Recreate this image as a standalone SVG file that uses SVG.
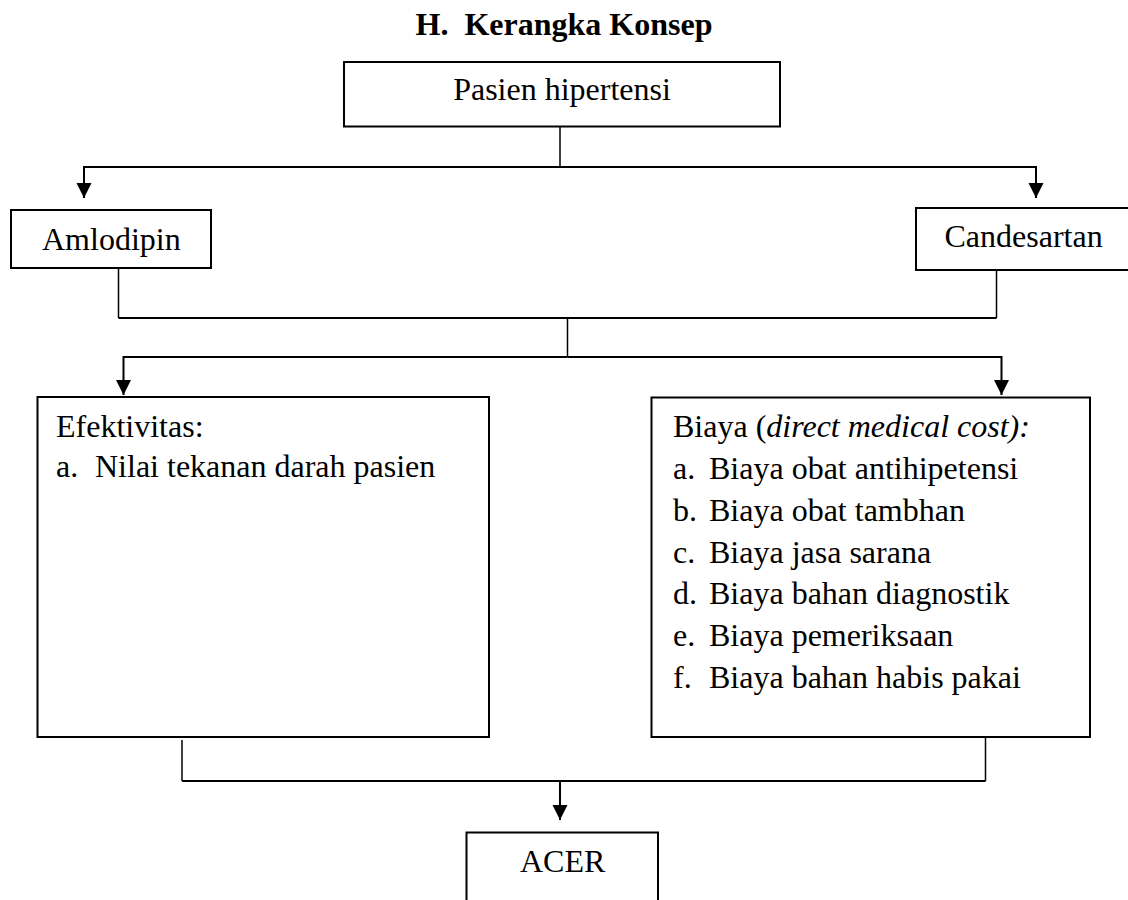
<svg xmlns="http://www.w3.org/2000/svg" width="1128" height="900" viewBox="0 0 1128 900">
<style>
  text { font-family: "Liberation Serif", "Times New Roman", serif; font-size: 32px; fill: #000; }
  .title { font-weight: bold; }
  .box { fill: #fff; stroke: #000; stroke-width: 2; }
  .conn { fill: none; stroke: #000; stroke-width: 2; }
  .drop { fill: none; stroke: #000; stroke-width: 1.5; }
  .it { font-style: italic; }
</style>
<defs>
  <marker id="arr" markerUnits="userSpaceOnUse" markerWidth="15" markerHeight="16" refX="15" refY="7.5" orient="auto">
    <path d="M0,0 L15,7.5 L0,15 z" fill="#000"/>
  </marker>
</defs>
<rect width="1128" height="900" fill="#fff"/>
<text class="title" x="564" y="35" text-anchor="middle" xml:space="preserve">H.  Kerangka Konsep</text>

<g id="connectors">
  <path class="drop" d="M560,127 V167"/>
  <path class="conn" d="M560,167 H84 V198" marker-end="url(#arr)"/>
  <path class="conn" d="M560,167 H1036 V198" marker-end="url(#arr)"/>
  <path class="drop" d="M118.5,268 V318"/>
  <path class="drop" d="M996.5,270 V318"/>
  <path class="conn" d="M118.5,318 H996.5"/>
  <path class="drop" d="M567.5,318 V357"/>
  <path class="conn" d="M567.5,357 H123.5 V395" marker-end="url(#arr)"/>
  <path class="conn" d="M567.5,357 H1001.5 V395" marker-end="url(#arr)"/>
  <path class="drop" d="M182,740 V781"/>
  <path class="drop" d="M985.5,737 V781"/>
  <path class="conn" d="M182,781 H985.5"/>
  <path class="conn" d="M560,781 V820" marker-end="url(#arr)"/>
</g>

<g id="pasien">
  <rect class="box" x="344" y="62" width="436" height="64.5"/>
  <text x="562" y="100" text-anchor="middle">Pasien hipertensi</text>
</g>

<g id="amlodipin">
  <rect class="box" x="11" y="210" width="200" height="58"/>
  <text x="42" y="249.5">Amlodipin</text>
</g>

<g id="candesartan">
  <rect class="box" x="916" y="208" width="220" height="62"/>
  <text x="944.5" y="247">Candesartan</text>
</g>

<g id="efektivitas">
  <rect class="box" x="37.5" y="397" width="451.5" height="340"/>
  <text x="56" y="437">Efektivitas:</text>
  <text x="56" y="477">a.</text>
  <text x="95" y="477">Nilai tekanan darah pasien</text>
</g>

<g id="biaya">
  <rect class="box" x="651.5" y="397.5" width="438.5" height="339.5"/>
  <text x="673" y="437">Biaya (<tspan class="it">direct medical cost):</tspan></text>
  <text x="673" y="478.9">a.</text><text x="709" y="478.9">Biaya obat antihipetensi</text>
  <text x="673" y="520.7">b.</text><text x="709" y="520.7">Biaya obat tambhan</text>
  <text x="673" y="562.6">c.</text><text x="709" y="562.6">Biaya jasa sarana</text>
  <text x="673" y="604.4">d.</text><text x="709" y="604.4">Biaya bahan diagnostik</text>
  <text x="673" y="646.3">e.</text><text x="709" y="646.3">Biaya pemeriksaan</text>
  <text x="673" y="688.1">f.</text><text x="709" y="688.1">Biaya bahan habis pakai</text>
</g>

<g id="acer">
  <rect class="box" x="466.5" y="832.5" width="191.5" height="80"/>
  <text x="520" y="872">ACER</text>
</g>
</svg>
